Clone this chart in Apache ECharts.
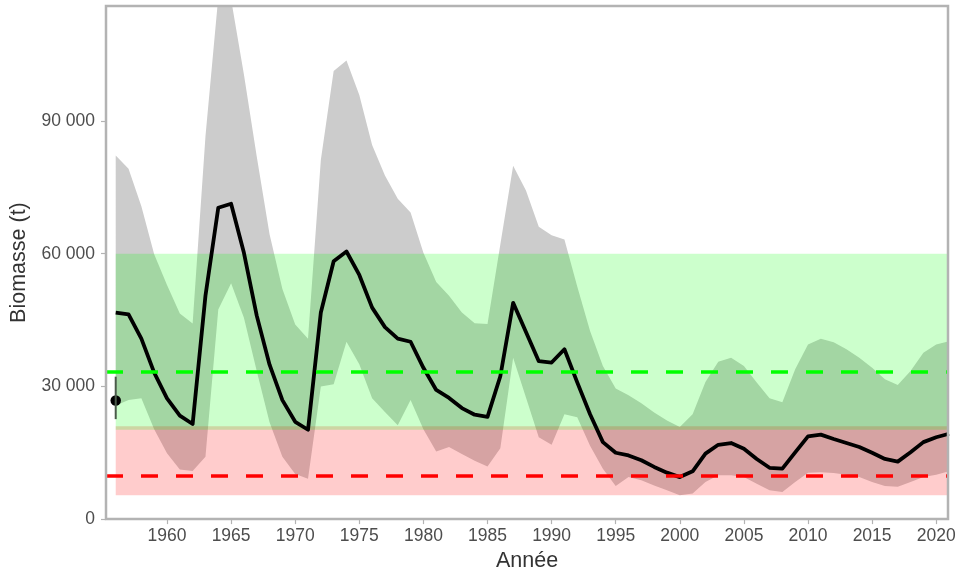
<!DOCTYPE html>
<html>
<head>
<meta charset="utf-8">
<script src="https://cdn.jsdelivr.net/npm/echarts@6/dist/echarts.min.js"></script>
<style>html,body{margin:0;padding:0;background:#fff}#c{width:961px;height:577px}</style>
</head>
<body>
<div id="c"></div>
<script>
const years = [];
for (let y = 1956; y <= 2021; y++) years.push(y);

const biomass = [46700,46300,40800,33100,27300,23400,21500,50500,70400,71300,
  60200,46000,34900,26900,22000,20200,46700,58300,60500,55200,
  47800,43400,40800,40100,34200,29200,27400,25100,23600,23100,
  32300,48900,42300,35700,35400,38400,30900,23700,17400,15000,
  14400,13300,11800,10500,9500,10800,14800,16800,17200,15900,
  13600,11600,11400,15100,18700,19100,18100,17200,16300,15000,
  13600,13000,15100,17400,18500,19300];

const upper = [82200,79200,70700,59900,52900,46500,44200,86500,118000,117500,
  100500,82000,64400,52000,44000,40800,81200,101300,103700,95900,
  84600,77700,72400,69300,60200,53600,50500,46700,44300,44100,
  62100,79900,74300,66100,64200,63200,52600,42500,34600,29500,
  28000,26200,24100,22300,20800,23700,31000,35600,36500,34600,
  30900,27300,26400,33900,39500,40800,40000,38400,36500,34200,
  31600,30300,33500,37600,39500,40200];

const lower = [25700,26900,27300,20300,14900,11200,10900,14100,47400,53300,
  45500,33500,21900,14100,10200,9100,30000,30500,40100,35000,
  27300,24200,21200,26900,20300,15300,16300,14700,13200,11900,
  16000,36500,27500,18500,16800,23700,23000,16600,11400,7500,
  9500,8800,7600,6500,5400,5800,8400,9900,9900,9500,
  8000,6500,6100,8400,10500,10600,10400,10000,9500,8400,
  7500,7300,8400,9500,10000,10800];

// reference zones and limits
const bandYears = [1956, 2021];
const greenZone = [20200, 60000];
const redZone = [5400, 21000];
const greenRef = 33300;
const redRef = 9700;

// independent survey point
const pointYear = 1956;
const pointValue = 26800;
const pointRange = [22600, 32200];

const xTicks = [1960,1965,1970,1975,1980,1985,1990,1995,2000,2005,2010,2015,2020];
const yTicks = [0, 30000, 60000, 90000];

const fmt = v => String(v).replace(/\B(?=(\d{3})+(?!\d))/g, ' ');
const pairs = arr => years.map((y, i) => [y, arr[i]]);

// polygon series: upper edge forward, lower edge backward, through the axes' scales
function ribbon(name, xs, hi, lo, color) {
  return {
    type: 'custom', name: name, silent: true, clip: true,
    data: [[xs[0], lo[0]]],
    renderItem: function (params, api) {
      const pts = [];
      for (let i = 0; i < xs.length; i++) pts.push(api.coord([xs[i], hi[i]]));
      for (let i = xs.length - 1; i >= 0; i--) pts.push(api.coord([xs[i], lo[i]]));
      return { type: 'polygon', shape: { points: pts }, style: { fill: color } };
    }
  };
}
const flat = (v, n) => Array(n).fill(v);

const chart = echarts.init(document.getElementById('c'), null, { renderer: 'canvas' });
chart.setOption({
  animation: false,
  backgroundColor: '#fff',
  textStyle: { fontFamily: 'Liberation Sans, Arial, sans-serif' },
  grid: { left: 106, right: 13, top: 6, bottom: 55.5, show: true, z: 10,
          borderColor: '#b3b3b3', borderWidth: 2.5, backgroundColor: 'transparent' },
  xAxis: {
    type: 'value', min: 1955.242, max: 2020.92,
    name: 'Année', nameLocation: 'middle', nameGap: 30,
    nameTextStyle: { fontSize: 21.5, color: '#333', fontFamily: 'Liberation Sans, Arial, sans-serif' },
    axisLine: { show: false },
    splitLine: { show: false },
    axisTick: { show: true, length: 5, customValues: xTicks, lineStyle: { color: '#b3b3b3', width: 1.2 } },
    axisLabel: { customValues: xTicks, fontSize: 17.5, color: '#4d4d4d', margin: 8, formatter: v => String(v) }
  },
  yAxis: {
    type: 'value', min: 0, max: 116000,
    name: 'Biomasse (t)', nameLocation: 'middle', nameGap: 76,
    nameTextStyle: { fontSize: 21.5, color: '#333', fontFamily: 'Liberation Sans, Arial, sans-serif' },
    axisLine: { show: false },
    splitLine: { show: false },
    axisTick: { show: true, length: 5, customValues: yTicks, lineStyle: { color: '#b3b3b3', width: 1.2 } },
    axisLabel: { customValues: yTicks, fontSize: 17.5, color: '#4d4d4d', margin: 11, formatter: fmt }
  },
  series: [
    ribbon('ci', years, upper, lower, '#cccccc'),
    { type: 'line', name: 'biomass', symbol: 'none', silent: true, data: pairs(biomass),
      lineStyle: { color: '#000', width: 3.8, join: 'round' } },
    ribbon('redZone', bandYears, flat(redZone[1], 2), flat(redZone[0], 2), 'rgba(255,0,0,0.2)'),
    ribbon('greenZone', bandYears, flat(greenZone[1], 2), flat(greenZone[0], 2), 'rgba(0,255,0,0.2)'),
    { type: 'line', name: 'errBar', symbol: 'none', silent: true,
      data: pointRange.map(v => [pointYear, v]),
      lineStyle: { color: '#4a5a4a', width: 2 } },
    { type: 'scatter', name: 'point', silent: true, data: [[pointYear, pointValue]],
      symbol: 'circle', symbolSize: 10.5, itemStyle: { color: '#000', opacity: 1 } },
    { type: 'line', name: 'refs', symbol: 'none', silent: true, data: [],
      markLine: { silent: true, symbol: ['none', 'none'], label: { show: false },
        animation: false,
        data: [
          { yAxis: greenRef, lineStyle: { color: '#00ff00', width: 3.6, type: [17, 18] } },
          { yAxis: redRef, lineStyle: { color: '#ff0000', width: 3.6, type: [17, 18] } }
        ] } }
  ]
});
</script>
</body>
</html>
